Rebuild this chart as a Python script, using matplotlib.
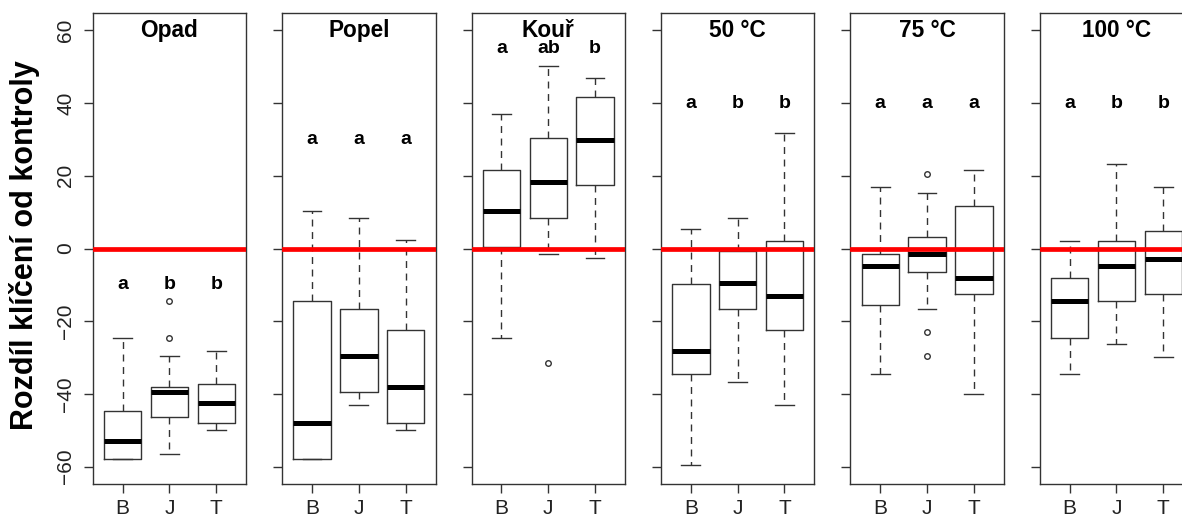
import matplotlib
matplotlib.use("Agg")
import matplotlib.pyplot as plt

plt.rcParams['font.family'] = ['Liberation Sans', 'DejaVu Sans']

panels = ['Opad', 'Popel', 'Kouř', '50 °C', '75 °C', '100 °C']
groups = ['B', 'J', 'T']

# box statistics, one row per panel, columns B, J, T
whislo = [[-57.9, -56.5, -49.9],
          [-57.9, -43.0, -49.9],
          [-24.6, -1.6, -2.5],
          [-59.5, -36.6, -43.0],
          [-34.5, -16.7, -40.1],
          [-34.5, -26.4, -29.9]]
q1 = [[-57.9, -46.4, -48.0],
      [-57.9, -39.5, -48.0],
      [0.3, 8.4, 17.6],
      [-34.5, -16.7, -22.5],
      [-15.5, -6.5, -12.6],
      [-24.6, -14.5, -12.6]]
med = [[-53.1, -39.5, -42.5],
       [-48.0, -29.6, -38.1],
       [10.4, 18.4, 29.9],
       [-28.1, -9.5, -13.0],
       [-4.7, -1.6, -8.1],
       [-14.5, -4.7, -3.0]]
q3 = [[-44.6, -38.0, -37.3],
      [-14.5, -16.7, -22.5],
      [21.7, 30.4, 41.6],
      [-9.7, -0.6, 2.1],
      [-1.5, 3.3, 11.8],
      [-8.1, 2.1, 4.9]]
whishi = [[-24.7, -29.5, -28.1],
          [10.3, 8.4, 2.4],
          [37.0, 50.2, 46.8],
          [5.4, 8.4, 31.8],
          [16.9, 15.4, 21.7],
          [2.1, 23.3, 16.9]]
fliers = [[[], [-14.5, -24.5], []],
          [[], [], []],
          [[], [-31.5], []],
          [[], [], []],
          [[], [20.5, -23.0, -29.5], []],
          [[], [], []]]

letters = [['a', 'b', 'b'],
           ['a', 'a', 'a'],
           ['a', 'ab', 'b'],
           ['a', 'b', 'b'],
           ['a', 'a', 'a'],
           ['a', 'b', 'b']]
letter_y = [-10, 30, 55, 40, 40, 40]
yticks = [-60, -40, -20, 0, 20, 40, 60]

W, H = 1182, 517
fig = plt.figure(figsize=(W / 100, H / 100), dpi=100)

edge = '#333333'
for i, name in enumerate(panels):
    left = (92.7 + i * 189.4) / W
    ax = fig.add_axes([left, 1 - 484 / H, 153.5 / W, 471 / H])

    stats = []
    for j, g in enumerate(groups):
        stats.append({'whislo': whislo[i][j], 'q1': q1[i][j], 'med': med[i][j],
                      'q3': q3[i][j], 'whishi': whishi[i][j],
                      'fliers': fliers[i][j], 'label': g})
    ax.bxp(stats, positions=[1, 2, 3], widths=0.8,
           boxprops=dict(color=edge, linewidth=1.0),
           medianprops=dict(color='black', linewidth=3.6, solid_capstyle='butt'),
           whiskerprops=dict(color=edge, linewidth=1.0, linestyle=(0, (5, 4))),
           capprops=dict(color=edge, linewidth=1.0),
           flierprops=dict(marker='o', markersize=4, markerfacecolor='none',
                           markeredgecolor=edge, markeredgewidth=1.0))

    ax.axhline(0, color='#ff0000', linewidth=3.4, zorder=5)

    ax.text(2, 60, name, ha='center', va='center', fontsize=16.3,
            fontweight='bold')
    for j, lab in enumerate(letters[i]):
        ax.text(j + 1, letter_y[i], lab, ha='center', va='center',
                fontsize=14, fontweight='bold')

    ax.set_xlim(0.36, 3.64)
    ax.set_ylim(-64.8, 64.8)
    ax.set_yticks(yticks)
    ax.set_xticks([1, 2, 3])
    ax.set_xticklabels(groups)
    ax.tick_params(axis='both', length=6.5, width=1, color=edge,
                   labelsize=15, labelcolor='#222222', pad=6)
    ax.tick_params(axis='x', pad=4)
    if i == 0:
        ax.set_yticklabels([str(t).replace('-', '\u2212') for t in yticks],
                           rotation=90, va='center')
    else:
        ax.set_yticklabels([])
    for s in ax.spines.values():
        s.set_color(edge)
        s.set_linewidth(1.0)

fig.text(25 / W, 1 - 245 / H, 'Rozdíl klíčení od kontroly', rotation=90,
         ha='center', va='center', fontsize=22, fontweight='bold')

fig.savefig('out.png', dpi=100)
